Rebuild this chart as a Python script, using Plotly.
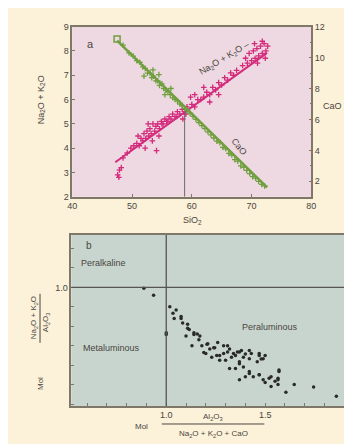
import plotly.graph_objects as go

# ---------------- data: panel a ----------------
alk_sio2 = [47.6, 47.9, 48.2, 47.8, 48.5, 49.2, 49.8,
            50.3, 50.8, 51.2, 51.5, 51.8, 52.0, 52.3, 52.5, 52.8, 53.0, 53.2, 53.5, 53.8, 54.0,
            54.3, 54.6, 54.9, 55.2, 55.5, 55.8, 56.2, 56.5, 56.8, 57.2, 57.6, 58.0, 58.4, 58.8,
            59.2, 52.2, 53.4, 51.0, 52.7, 54.5, 55.0, 56.0, 57.5, 58.5, 59.0, 54.1,
            60.0, 60.5, 61.0, 61.5, 62.0, 62.5, 63.0, 63.5, 64.0, 64.5, 65.0, 65.5, 66.0, 66.5,
            67.0, 67.5, 62.0, 63.0, 64.5, 60.5, 59.8,
            68.5, 69.0, 69.3, 69.6, 70.0, 70.3, 70.6, 70.9, 71.2, 71.5, 71.8, 72.1, 72.4,
            72.7, 70.5, 71.0, 71.8, 72.3]
alk_val = [2.9, 3.1, 3.2, 2.8, 3.6, 3.8, 4.0,
           4.1, 4.2, 4.1, 4.4, 4.3, 4.6, 4.4, 4.7, 4.5, 4.8, 4.6, 5.0, 4.7, 4.9,
           5.0, 4.8, 5.1, 5.0, 5.2, 5.1, 5.3, 5.2, 5.4, 5.3, 5.5, 5.4, 5.6, 5.5,
           5.7, 4.0, 4.3, 4.5, 5.0, 4.5, 5.0, 5.1, 5.3, 5.2, 5.4, 3.9,
           5.8, 5.7, 6.0, 6.0, 6.1, 6.3, 6.2, 6.5, 6.4, 6.7, 6.6, 6.9, 6.8, 7.1,
           7.0, 7.2, 6.5, 5.9, 6.2, 6.2, 6.1,
           7.4, 7.7, 7.5, 7.9, 7.6, 8.0, 7.7, 8.1, 7.8, 8.2, 7.9, 8.3, 8.0,
           8.2, 8.3, 7.5, 8.4, 7.7]
alk_fit_x = [47.2, 72.6]
alk_fit_y = [3.42, 7.92]

cao_sio2 = [48.5, 49.5, 50.2, 50.8, 51.3, 51.8, 52.2, 52.6, 53.0, 53.3, 53.6, 54.0, 54.3,
            54.6, 55.0, 55.3, 55.7, 56.0, 56.4, 56.8, 57.2, 57.6, 58.0, 58.4, 58.8, 59.2,
            59.7, 60.2, 60.7, 61.2, 61.7, 62.2, 62.7, 63.2, 63.7, 64.2, 64.7, 65.2, 65.7,
            66.2, 66.7, 67.2, 67.7, 68.2, 68.7, 69.2, 69.7, 70.2, 70.7, 71.2, 71.7, 72.2,
            53.5, 54.5, 55.5, 56.5, 52.0]
cao_val = [10.8, 10.3, 10.1, 9.8, 9.7, 9.4, 9.3, 9.0, 9.0, 8.7, 8.8, 8.5, 8.5,
           8.2, 8.3, 8.0, 7.9, 7.8, 7.6, 7.4, 7.3, 7.2, 7.0, 6.9, 6.7, 6.6,
           6.4, 6.2, 6.0, 5.8, 5.6, 5.4, 5.2, 5.0, 4.8, 4.6, 4.5, 4.2, 4.1,
           3.8, 3.7, 3.4, 3.3, 3.0, 2.9, 2.7, 2.5, 2.3, 2.2, 2.0, 1.8, 1.7,
           9.2, 8.9, 7.6, 8.0, 8.8]
cao_fit_x = [47.5, 72.6]
cao_fit_y = [11.1, 1.6]
cao_start_x = [47.5]
cao_start_y = [11.2]
crossover_sio2 = 58.8
crossover_alk = 5.6

# ---------------- data: panel b ----------------
asi = [0.887, 0.936, 1.0, 1.0,
       1.018, 1.034, 1.05, 1.04, 1.075, 1.083, 1.108, 1.116, 1.1, 1.14, 1.157, 1.17, 1.13, 1.18,
       1.21, 1.22, 1.245, 1.26, 1.29, 1.255, 1.29, 1.31, 1.33, 1.35, 1.37, 1.39, 1.42, 1.31,
       1.20, 1.23, 1.27,
       1.32, 1.34, 1.36, 1.38, 1.42, 1.43, 1.47, 1.49, 1.50, 1.46, 1.37, 1.39, 1.35, 1.42,
       1.44, 1.47, 1.49, 1.52, 1.55, 1.565, 1.57, 1.565, 1.53, 1.605, 1.647, 1.745, 1.86,
       1.32, 1.40, 1.50,
       1.075, 1.108, 1.14, 1.165, 1.206, 1.19, 1.24, 1.27, 1.30, 1.37, 1.40, 1.47, 1.48,
       1.42, 1.47, 1.53, 1.57, 1.565, 1.37]
aki = [0.995, 0.96, 0.767, 0.757,
       0.90, 0.867, 0.883, 0.84, 0.85, 0.817, 0.81, 0.783, 0.75, 0.767, 0.76, 0.75, 0.70, 0.70,
       0.71, 0.683, 0.69, 0.717, 0.70, 0.65, 0.66, 0.667, 0.64, 0.65, 0.667, 0.64, 0.633, 0.70,
       0.66, 0.64, 0.625,
       0.683, 0.66, 0.667, 0.675, 0.675, 0.66, 0.66, 0.633, 0.65, 0.617, 0.617, 0.59, 0.583, 0.567,
       0.54, 0.55, 0.525, 0.533, 0.517, 0.533, 0.567, 0.50, 0.49, 0.46, 0.50, 0.487, 0.44,
       0.583, 0.54, 0.51,
       0.84, 0.79, 0.757, 0.73, 0.707, 0.665, 0.69, 0.65, 0.625, 0.607, 0.657, 0.65, 0.632,
       0.557, 0.55, 0.54, 0.575, 0.525, 0.525]
asi_ticks = [0.6, 0.7, 0.8, 0.9, 1.0, 1.1, 1.2, 1.3, 1.4, 1.5, 1.6, 1.7, 1.8]
asi_ticklabels = ["", "", "", "", "1.0", "", "", "", "", "1.5", "", "", ""]
aki_ticks = [0.4, 0.5, 0.6, 0.7, 0.8, 0.9, 1.0, 1.1, 1.2]
aki_ticklabels = ["", "", "", "", "", "", "1.0", "", ""]

PINK = "#d42a7c"
GREEN = "#6f9f3e"
AX = "#7f7868"
TXT = "#4a4640"
FONT = "Liberation Sans, Arial, sans-serif"

fig = go.Figure()

# panel a
fig.add_trace(go.Scatter(x=alk_sio2, y=alk_val, mode="markers", xaxis="x", yaxis="y",
                         marker=dict(symbol="cross-thin", size=4, color=PINK,
                                     line=dict(color=PINK, width=1.3)),
                         showlegend=False))
fig.add_trace(go.Scatter(x=alk_fit_x, y=alk_fit_y, mode="lines", xaxis="x", yaxis="y",
                         line=dict(color=PINK, width=2), showlegend=False))
fig.add_trace(go.Scatter(x=cao_sio2, y=cao_val, mode="markers", xaxis="x", yaxis="y2",
                         marker=dict(symbol="cross-thin", size=4, color=GREEN,
                                     line=dict(color=GREEN, width=1.3)),
                         showlegend=False))
fig.add_trace(go.Scatter(x=cao_fit_x, y=cao_fit_y, mode="lines", xaxis="x", yaxis="y2",
                         line=dict(color=GREEN, width=2.5), showlegend=False))
fig.add_trace(go.Scatter(x=cao_start_x, y=cao_start_y, mode="markers", xaxis="x", yaxis="y2",
                         marker=dict(symbol="square-open", size=6, color=GREEN,
                                     line=dict(width=1.5)), showlegend=False))
fig.add_trace(go.Scatter(x=[crossover_sio2, crossover_sio2], y=[2, crossover_alk], mode="lines",
                         xaxis="x", yaxis="y", line=dict(color="#6a6a6a", width=1),
                         showlegend=False))

# panel b
fig.add_trace(go.Scatter(x=asi, y=aki, mode="markers", xaxis="x2", yaxis="y3",
                         marker=dict(size=3.5, color="#2a2a2a"), showlegend=False))

axis_common = dict(showline=True, linecolor=AX, linewidth=1.5, mirror=True, ticks="inside",
                   tickcolor=AX, ticklen=3, showgrid=False, zeroline=False,
                   tickfont=dict(size=9, color=TXT, family=FONT))

fig.update_layout(
    width=352, height=444,
    margin=dict(l=0, r=0, t=0, b=0),
    paper_bgcolor="#fcf1d9",
    plot_bgcolor="rgba(0,0,0,0)",
    font=dict(family=FONT, color=TXT, size=9),
    xaxis=dict(domain=[0.1733, 0.8722], range=[40, 80], anchor="y",
               tickvals=[40, 50, 60, 70, 80], **axis_common),
    yaxis=dict(domain=[0.5766, 0.9685], range=[2, 9], anchor="x",
               tickvals=[2, 3, 4, 5, 6, 7, 8, 9], **axis_common),
    yaxis2=dict(range=[1, 12], overlaying="y", side="right", anchor="x",
                tickvals=[2, 4, 6, 8, 10, 12],
                minor=dict(ticks="inside", tickvals=[1, 3, 5, 7, 9, 11], ticklen=2, tickcolor=AX),
                **{k: v for k, v in axis_common.items() if k != "mirror"}),
    xaxis2=dict(domain=[0.1705, 0.9744], range=[0.52, 1.91], anchor="y3",
                tickvals=asi_ticks, ticktext=asi_ticklabels, **axis_common),
    yaxis3=dict(domain=[0.0946, 0.4887], range=[0.39, 1.27], anchor="x2",
                tickvals=aki_ticks, ticktext=aki_ticklabels, **axis_common),
)

# backgrounds
fig.add_shape(type="rect", xref="x domain", yref="y domain", x0=0, x1=1, y0=0, y1=1,
              fillcolor="#eed8e1", line=dict(width=0), layer="below")
fig.add_shape(type="rect", xref="x2 domain", yref="y3 domain", x0=0, x1=1, y0=0, y1=1,
              fillcolor="#c8d5cf", line=dict(width=0), layer="below")
# reference lines in panel b
fig.add_shape(type="line", xref="x2", yref="y3 domain", x0=1.0, x1=1.0, y0=0, y1=1,
              line=dict(color="#555", width=1.3))
fig.add_shape(type="line", xref="x2 domain", yref="y3", x0=0, x1=1, y0=1.0, y1=1.0,
              line=dict(color="#555", width=1.3))

ann = []
def A(size=9, **kw):
    base = dict(showarrow=False, xanchor="center", yanchor="middle",
                font=dict(size=size, color=TXT, family=FONT))
    base.update(kw)
    ann.append(base)

# panel a labels
A(text="a", x=43.1, y=8.28, xref="x", yref="y", size=11)
A(text="Na<sub>2</sub>O + K<sub>2</sub>O –", x=65.4, y=7.7, xref="x", yref="y", textangle=-31)
A(text="CaO", x=68.0, y=4.06, xref="x", yref="y", textangle=52)
A(text="Na<sub>2</sub>O + K<sub>2</sub>O", x=0.083, y=0.80, xref="paper", yref="paper", textangle=-90)
A(text="CaO", x=0.935, y=0.785, xref="paper", yref="paper")
A(text="SiO<sub>2</sub>", x=0.525, y=0.523, xref="paper", yref="paper")

# panel b labels
A(text="b", x=0.608, y=1.215, xref="x2", yref="y3", size=10)
A(text="Peralkaline", x=0.56, y=1.125, xref="x2", yref="y3", xanchor="left")
A(text="Metaluminous", x=0.57, y=0.69, xref="x2", yref="y3", xanchor="left")
A(text="Peraluminous", x=1.525, y=0.795, xref="x2", yref="y3")

# y title of panel b (fraction, rotated)
A(text="Mol", x=0.08, y=0.146, xref="paper", yref="paper", textangle=-90, size=8)
A(text="Na<sub>2</sub>O + K<sub>2</sub>O", x=0.062, y=0.297, xref="paper", yref="paper",
  textangle=-90, size=8)
A(text="Al<sub>2</sub>O<sub>3</sub>", x=0.097, y=0.288, xref="paper", yref="paper",
  textangle=-90, size=8)
fig.add_shape(type="line", xref="paper", yref="paper", x0=0.079, x1=0.079, y0=0.24, y1=0.353,
              line=dict(color=TXT, width=1))

# x title of panel b (fraction)
A(text="Mol", x=0.375, y=0.047, xref="paper", yref="paper", size=8)
A(text="Al<sub>2</sub>O<sub>3</sub>", x=0.585, y=0.07, xref="paper", yref="paper", size=8)
A(text="Na<sub>2</sub>O + K<sub>2</sub>O + CaO", x=0.585, y=0.031, xref="paper", yref="paper", size=8)
fig.add_shape(type="line", xref="paper", yref="paper", x0=0.435, x1=0.735, y0=0.053, y1=0.053,
              line=dict(color=TXT, width=1))

fig.update_layout(annotations=ann)
fig.write_html("out.html")
